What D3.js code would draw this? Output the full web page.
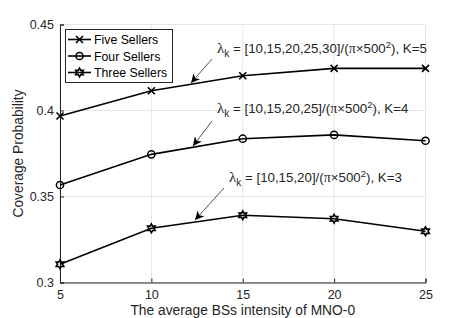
<!DOCTYPE html>
<html>
<head>
<meta charset="utf-8">
<script src="https://d3js.org/d3.v7.min.js"></script>
<style>
  body { margin: 0; background: #fff; }
  text { font-family: "Liberation Sans", Arial, sans-serif; }
</style>
</head>
<body>
<script>
// data
var intensity = [5, 10, 15, 20, 25];
var fiveSellers  = [0.3968, 0.4115, 0.4202, 0.4245, 0.4245];
var fourSellers  = [0.3567, 0.3745, 0.3836, 0.3858, 0.3824];
var threeSellers = [0.3106, 0.3315, 0.3391, 0.3371, 0.3298];
var seriesNames = ["Five Sellers", "Four Sellers", "Three Sellers"];
var markers = ["cross", "circle", "hexagram"];
var yTicks = [0.3, 0.35, 0.4, 0.45];
var notes = [
  {vec: "[10,15,20,25,30]", K: 5},
  {vec: "[10,15,20,25]", K: 4},
  {vec: "[10,15,20]", K: 3}
];

var W = 471, H = 318;
var m = {left: 60, right: 45.5, top: 24.5, bottom: 35.5};

var svg = d3.select("body").append("svg")
  .attr("width", W).attr("height", H);

var x = d3.scaleLinear().domain([5, 25]).range([m.left, W - m.right]);
var y = d3.scaleLinear().domain([0.3, 0.45]).range([H - m.bottom, m.top]);

// grid
var g = svg.append("g");
g.selectAll(".gx").data(intensity).enter().append("line")
  .attr("x1", d => x(d)).attr("x2", d => x(d))
  .attr("y1", y(0.3)).attr("y2", y(0.45))
  .attr("stroke", "#e6e6e6").attr("stroke-width", 1);
g.selectAll(".gy").data(yTicks).enter().append("line")
  .attr("x1", x(5)).attr("x2", x(25))
  .attr("y1", d => y(d)).attr("y2", d => y(d))
  .attr("stroke", "#e6e6e6").attr("stroke-width", 1);

// axes
var xAxis = d3.axisBottom(x).tickValues(intensity).tickSize(-4).tickPadding(8);
var yAxis = d3.axisLeft(y).tickValues(yTicks).tickSize(-4).tickPadding(6)
  .tickFormat(d3.format("~g"));

var gx = svg.append("g").attr("transform", "translate(0," + y(0.3) + ")").call(xAxis);
var gy = svg.append("g").attr("transform", "translate(" + x(5) + ",0)").call(yAxis);
[gx, gy].forEach(function(a) {
  a.select(".domain").attr("stroke", "#262626");
  a.selectAll(".tick line").attr("stroke", "#262626");
  a.selectAll(".tick text").attr("fill", "#262626")
    .style("font-size", "12.5px").style("font-family", "Liberation Sans, Arial, sans-serif");
});

// axis labels
svg.append("text")
  .attr("x", (x(5) + x(25)) / 2).attr("y", 315)
  .attr("text-anchor", "middle").attr("fill", "#262626")
  .style("font-size", "13.8px")
  .text("The average BSs intensity of MNO-0");
svg.append("text")
  .attr("transform", "translate(23," + ((y(0.3) + y(0.45)) / 2) + ") rotate(-90)")
  .attr("text-anchor", "middle").attr("fill", "#262626")
  .style("font-size", "13.8px")
  .text("Coverage Probability");

// marker drawing
function drawMarker(sel, type, px, py) {
  if (type == "cross") {
    sel.append("path")
      .attr("d", "M" + (px - 3.5) + "," + (py - 3.5) + "L" + (px + 3.5) + "," + (py + 3.5) +
                 "M" + (px - 3.5) + "," + (py + 3.5) + "L" + (px + 3.5) + "," + (py - 3.5))
      .attr("stroke", "black").attr("stroke-width", 1.6).attr("fill", "none");
  } else if (type == "circle") {
    sel.append("circle").attr("cx", px).attr("cy", py).attr("r", 3.6)
      .attr("stroke", "black").attr("stroke-width", 1.5).attr("fill", "none");
  } else {
    var pts = [];
    for (var k = 0; k < 12; k++) {
      var r = k % 2 == 0 ? 4.4 : 2.5;
      var a = -Math.PI / 2 + k * Math.PI / 6;
      pts.push([px + r * Math.cos(a), py + r * Math.sin(a)]);
    }
    sel.append("path").attr("d", "M" + pts.join("L") + "Z")
      .attr("stroke", "black").attr("stroke-width", 1.6).attr("fill", "none");
  }
}

var allSeries = [fiveSellers, fourSellers, threeSellers];
var line = d3.line().x((d, i) => x(intensity[i])).y(d => y(d));

allSeries.forEach(function(vals, s) {
  var sg = svg.append("g");
  sg.append("path").datum(vals).attr("d", line)
    .attr("fill", "none").attr("stroke", "black").attr("stroke-width", 1.6);
  vals.forEach(function(v, i) {
    drawMarker(sg, markers[s], x(intensity[i]), y(v));
  });
});

// legend
var lg = svg.append("g");
lg.append("rect").attr("x", 65.5).attr("y", 29.5).attr("width", 107).attr("height", 53)
  .attr("fill", "white").attr("stroke", "#262626").attr("stroke-width", 1);
seriesNames.forEach(function(name, i) {
  var ly = 39.5 + i * 16.5;
  lg.append("line").attr("x1", 68).attr("x2", 91).attr("y1", ly).attr("y2", ly)
    .attr("stroke", "black").attr("stroke-width", 1.6);
  drawMarker(lg, markers[i], 79.5, ly);
  lg.append("text").attr("x", 94).attr("y", ly + 4.5)
    .attr("fill", "black").style("font-size", "12.3px").text(name);
});

// annotations
svg.append("defs").append("marker")
  .attr("id", "ah").attr("viewBox", "0 0 10 10")
  .attr("refX", 10).attr("refY", 5)
  .attr("markerWidth", 9).attr("markerHeight", 9)
  .attr("markerUnits", "userSpaceOnUse")
  .attr("orient", "auto")
  .append("path").attr("d", "M0,0L10,5L0,10L3,5Z").attr("fill", "black");

var noteX = [217, 217, 229];
var noteY = [53, 113, 182];
var arrowFrom = [[212, 59], [212, 121], [224, 188]];
var arrowTo = [[191, 83], [193, 146], [195, 220]];

notes.forEach(function(n, i) {
  var t = svg.append("text").attr("x", noteX[i]).attr("y", noteY[i])
    .attr("fill", "#262626").style("font-size", "13.3px");
  t.append("tspan").style("font-family", "Liberation Serif, serif").style("font-size", "15px").text("\u03bb");
  t.append("tspan").attr("dy", 4).style("font-size", "10px").text("k");
  t.append("tspan").attr("dy", -4).text(" = " + n.vec + "/(");
  t.append("tspan").style("font-family", "Liberation Serif, serif").style("font-size", "14px").text("\u03c0");
  t.append("tspan").text("\u00d7500");
  t.append("tspan").attr("dy", -5).style("font-size", "9.5px").text("2");
  t.append("tspan").attr("dy", 5).text("), K=" + n.K);

  svg.append("line")
    .attr("x1", arrowFrom[i][0]).attr("y1", arrowFrom[i][1])
    .attr("x2", arrowTo[i][0]).attr("y2", arrowTo[i][1])
    .attr("stroke", "#262626").attr("stroke-width", 0.8)
    .attr("marker-end", "url(#ah)");
});
</script>
</body>
</html>
